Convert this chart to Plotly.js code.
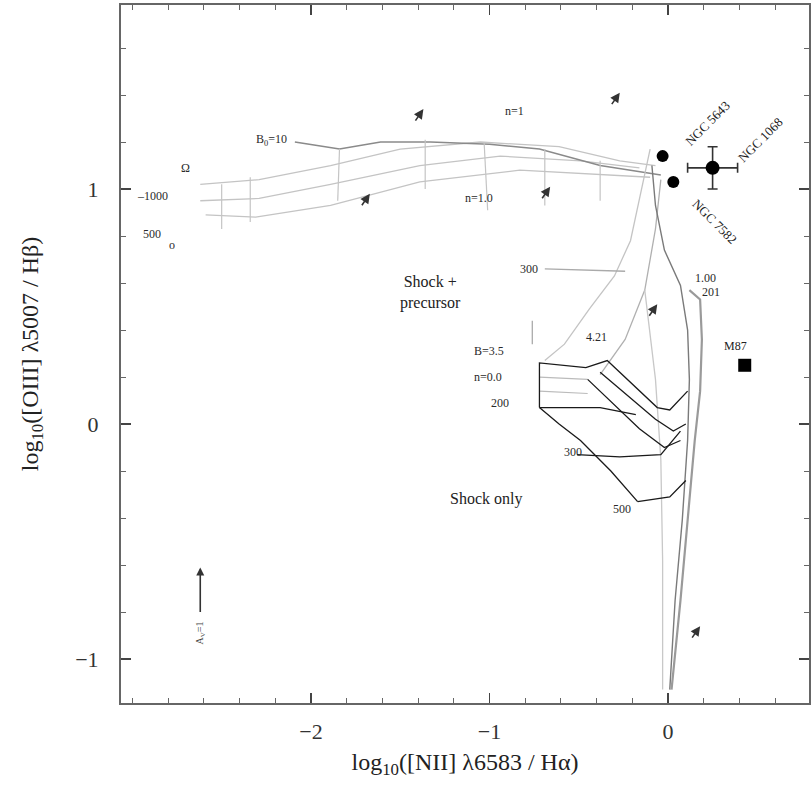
<!DOCTYPE html>
<html><head><meta charset="utf-8">
<script src="https://cdn.plot.ly/plotly-3.0.1.min.js"></script>
<style>html,body{margin:0;padding:0;background:#fff}</style>
</head><body>
<div id="chart" style="width:811px;height:787px"></div>
<script>
// ---- data (log10 ratios) ----
// shock + precursor grid (grey)
const precA_x = [-2.62,-2.29,-1.89,-1.50,-1.05,-0.61,-0.27,-0.07];
const precA_y = [1.02,1.04,1.10,1.17,1.20,1.18,1.12,1.10];
const precB_x = [-2.62,-2.29,-1.89,-1.39,-0.94,-0.49,-0.16];
const precB_y = [0.95,0.96,1.02,1.10,1.14,1.12,1.09];
const precC_x = [-2.59,-2.31,-1.89,-1.39,-0.83,-0.38,-0.10];
const precC_y = [0.89,0.88,0.93,1.03,1.08,1.06,1.05];
const precD_x = [-2.09,-1.84,-1.61,-1.33,-1.00,-0.72,-0.38,-0.04];
const precD_y = [1.20,1.17,1.20,1.20,1.19,1.17,1.10,1.06];
const precV_x = [[-2.50,-2.50],[-2.34,-2.34],[-1.84,-1.85],[-1.36,-1.36],[-1.03,-1.01],[-0.69,-0.69],[-0.38,-0.38]];
const precV_y = [[1.02,0.83],[1.05,0.86],[1.17,0.95],[1.21,1.00],[1.20,0.91],[1.17,0.93],[1.12,0.95]];
const precDown1_x = [-0.10,-0.16,-0.21,-0.30,-0.44,-0.58,-0.69];
const precDown1_y = [1.17,0.95,0.78,0.63,0.49,0.34,0.27];
const precDown2_x = [-0.04,-0.07,-0.13,-0.24,-0.38];
const precDown2_y = [1.04,0.83,0.57,0.36,0.21];
const prec300_x = [-0.69,-0.24];
const prec300_y = [0.66,0.65];
const precTick_x = [-0.76,-0.76];
const precTick_y = [0.44,0.34];
// near-vertical model tracks
const track1_x = [-0.09,-0.07,-0.02,0.07,0.11,0.12,0.11,0.08,0.04,0.01];
const track1_y = [1.10,0.93,0.74,0.59,0.40,0.19,-0.07,-0.41,-0.75,-1.13];
const track2_x = [0.12,0.18,0.19,0.18,0.15,0.11,0.07,0.02];
const track2_y = [0.57,0.53,0.36,0.14,-0.07,-0.41,-0.75,-1.13];
const track3_x = [-0.13,-0.07,-0.04,-0.03,-0.03];
const track3_y = [0.57,0.19,-0.15,-0.58,-1.13];
// shock-only grid (black)
const shock1_x = [-0.72,-0.72,-0.46,-0.34,-0.06,0.01,0.11];
const shock1_y = [0.07,0.26,0.24,0.27,0.07,0.06,0.14];
const shock2_x = [-0.38,-0.21,-0.07,0.03,0.10];
const shock2_y = [0.22,0.11,0.02,-0.03,0.00];
const shock3_x = [-0.45,-0.30,-0.16,-0.02,0.07];
const shock3_y = [0.19,0.08,-0.02,-0.10,-0.07];
const shock200_x = [-0.72,-0.38,-0.18];
const shock200_y = [0.07,0.07,0.04];
const shock4_x = [-0.72,-0.61,-0.49,-0.32,-0.17];
const shock4_y = [0.07,0.00,-0.07,-0.20,-0.33];
const shock300_x = [-0.51,-0.27,-0.04,0.07];
const shock300_y = [-0.13,-0.14,-0.13,-0.03];
const shock500_x = [-0.17,0.01,0.10];
const shock500_y = [-0.33,-0.31,-0.24];
const shockG1_x = [-0.72,-0.45];
const shockG1_y = [0.20,0.19];
const shockG2_x = [-0.72,-0.45];
const shockG2_y = [0.14,0.13];
// observed galaxies
const galName = ['NGC 5643','NGC 7582','NGC 1068'];
const galX = [-0.03,0.03];
const galY = [1.14,1.03];
const errGalX = [0.25];
const errGalY = [1.09];
const errGalDX = [0.14];
const errGalDY = [0.09];
const m87X = [0.43];
const m87Y = [0.25];
// small arrow markers (head x, head y)
const arrX = [-0.27,-1.37,-1.67,-0.66,-0.06,0.18];
const arrY = [1.41,1.34,0.98,1.01,0.51,-0.86];
// text labels
const lblText = ['300','4.21','B=3.5','n=0.0','200','300','500','1.00','201','n=1','n=1.0','B<sub>0</sub>=10','Ω','–1000','500','o'];
const lblX = [-0.78,-0.40,-1.00,-1.01,-0.94,-0.53,-0.26,0.21,0.24,-0.86,-1.06,-2.22,-2.70,-2.89,-2.89,-2.78];
const lblY = [0.66,0.37,0.31,0.20,0.09,-0.12,-0.36,0.62,0.56,1.33,0.96,1.21,1.09,0.97,0.81,0.76];
const xTickVals = [-2,-1,0];
const xTickText = ['−2','−1','0'];
const yTickVals = [-1,0,1];
const yTickText = ['−1','0','1'];

const serif = 'Liberation Serif, DejaVu Serif, serif';
const grey = '#c4c4c4';
const dark = '#1a1a1a';
const traces = [];
function line(x, y, color, w) {
  traces.push({x: x, y: y, mode: 'lines', line: {color: color, width: w}, hoverinfo: 'skip', showlegend: false});
}
line(precA_x, precA_y, grey, 1.3);
line(precB_x, precB_y, grey, 1.3);
line(precC_x, precC_y, grey, 1.3);
line(precD_x, precD_y, '#8a8a8a', 1.5);
for (let i = 0; i < precV_x.length; i++) line(precV_x[i], precV_y[i], grey, 1.2);
line(precDown1_x, precDown1_y, grey, 1.3);
line(precDown2_x, precDown2_y, '#b0b0b0', 1.3);
line(prec300_x, prec300_y, '#aaaaaa', 1.3);
line(precTick_x, precTick_y, '#aaaaaa', 1.3);
line(track3_x, track3_y, '#c8c8c8', 1.3);
line(track1_x, track1_y, '#7a7a7a', 1.4);
line(track2_x, track2_y, '#9a9a9a', 2.2);
line(shockG1_x, shockG1_y, '#bbbbbb', 1.2);
line(shockG2_x, shockG2_y, '#bbbbbb', 1.2);
line(shock1_x, shock1_y, dark, 1.3);
line(shock2_x, shock2_y, dark, 1.3);
line(shock3_x, shock3_y, dark, 1.3);
line(shock200_x, shock200_y, dark, 1.3);
line(shock4_x, shock4_y, dark, 1.3);
line(shock300_x, shock300_y, dark, 1.3);
line(shock500_x, shock500_y, dark, 1.3);

traces.push({x: galX, y: galY, mode: 'markers', hoverinfo: 'skip', showlegend: false,
  marker: {color: '#000', size: 12, symbol: 'circle'}});
traces.push({x: errGalX, y: errGalY, mode: 'markers', hoverinfo: 'skip', showlegend: false,
  marker: {color: '#000', size: 14, symbol: 'circle'},
  error_x: {type: 'data', array: errGalDX, color: '#333', thickness: 1.6, width: 5},
  error_y: {type: 'data', array: errGalDY, color: '#333', thickness: 1.6, width: 5}});
traces.push({x: m87X, y: m87Y, mode: 'markers', hoverinfo: 'skip', showlegend: false,
  marker: {color: '#000', size: 13, symbol: 'square'}});

const ann = [];
ann.push({x: -1.33, y: 0.56, text: 'Shock +<br>precursor', showarrow: false, font: {family: serif, size: 16, color: '#222'}});
ann.push({x: -1.02, y: -0.32, text: 'Shock only', showarrow: false, font: {family: serif, size: 16, color: '#222'}});
ann.push({x: 0.38, y: 0.33, text: 'M87', showarrow: false, font: {family: serif, size: 12, color: '#222'}});
ann.push({x: 0.22, y: 1.28, text: galName[0], textangle: -45, showarrow: false, font: {family: serif, size: 13, color: '#222'}});
ann.push({x: 0.26, y: 0.86, text: galName[1], textangle: 45, showarrow: false, font: {family: serif, size: 13, color: '#222'}});
ann.push({x: 0.52, y: 1.21, text: galName[2], textangle: -45, showarrow: false, font: {family: serif, size: 13, color: '#222'}});
for (let i = 0; i < lblText.length; i++) {
  ann.push({x: lblX[i], y: lblY[i], text: lblText[i], showarrow: false, font: {family: serif, size: 12, color: '#2a2a2a'}});
}
for (let i = 0; i < arrX.length; i++) {
  ann.push({x: arrX[i], y: arrY[i], ax: -9, ay: 13, text: '', showarrow: true, arrowhead: 2, arrowsize: 1.2, arrowwidth: 1.6, arrowcolor: '#333'});
}
ann.push({x: -2.62, y: -0.61, ax: 0, ay: 46, text: '', showarrow: true, arrowhead: 2, arrowsize: 1, arrowwidth: 1.6, arrowcolor: '#333'});
ann.push({x: -2.62, y: -0.89, text: 'A<sub>V</sub>=1', textangle: -90, showarrow: false, font: {family: serif, size: 10, color: '#444'}});

const axisCommon = {
  showgrid: false, zeroline: false, showline: true, linecolor: '#666', linewidth: 2, mirror: 'ticks',
  ticks: 'inside', ticklen: 10, tickwidth: 1.2, tickcolor: '#444', tickmode: 'array',
  tickfont: {family: serif, size: 22, color: '#333'},
  minor: {tickmode: 'linear', tick0: 0, dtick: 0.2, ticks: 'inside', ticklen: 5, tickcolor: '#666', tickwidth: 1}
};
const layout = {
  width: 811, height: 787,
  margin: {l: 121, r: 2, t: 5, b: 84},
  paper_bgcolor: '#fff', plot_bgcolor: '#fff',
  showlegend: false,
  xaxis: Object.assign({}, axisCommon, {range: [-3.064, 0.79], tickvals: xTickVals, ticktext: xTickText, ticklabelstandoff: 8,
    title: {text: 'log<sub>10</sub>([NII] λ6583 / Hα)', font: {family: serif, size: 24, color: '#222'}, standoff: 10}}),
  yaxis: Object.assign({}, axisCommon, {range: [-1.187, 1.783], tickvals: yTickVals, ticktext: yTickText, ticklabelstandoff: 16,
    title: {text: 'log<sub>10</sub>([OIII] λ5007 / Hβ)', font: {family: serif, size: 24, color: '#222'}, standoff: 30}}),
  annotations: ann
};
Plotly.newPlot('chart', traces, layout, {displayModeBar: false, staticPlot: true});
</script>
</body></html>
